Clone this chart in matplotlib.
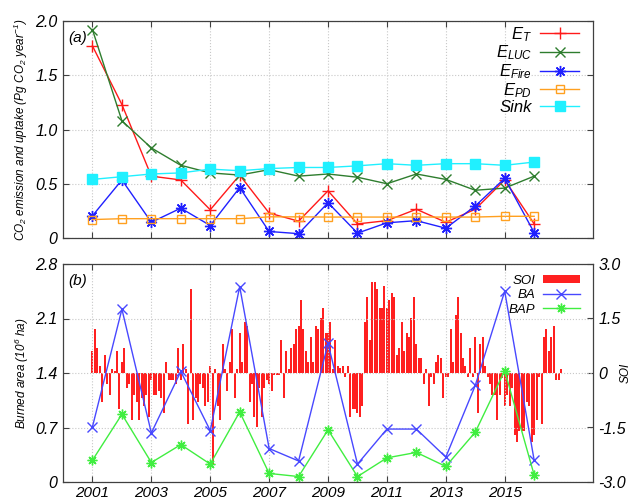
"""Recreate the two-panel CO2 emission / burned area chart with SOI bars."""
import numpy as np
import matplotlib
matplotlib.use("Agg")
import matplotlib.pyplot as plt
from matplotlib.patches import Patch
from matplotlib.lines import Line2D

plt.rcParams['font.family'] = ['Liberation Sans', 'DejaVu Sans']
plt.rcParams['font.style'] = 'italic'
plt.rcParams['mathtext.fontset'] = 'custom'
plt.rcParams['mathtext.it'] = 'Liberation Sans:italic'
plt.rcParams['mathtext.rm'] = 'Liberation Sans:italic'

years = np.arange(2001, 2017)

# panel (a), Pg CO2 per year
e_t = [1.77, 1.23, 0.57, 0.535, 0.26, 0.58, 0.23, 0.155, 0.435, 0.13, 0.16, 0.265, 0.145, 0.265, 0.535, 0.13]
e_luc = [1.92, 1.08, 0.83, 0.67, 0.60, 0.58, 0.63, 0.57, 0.59, 0.56, 0.50, 0.59, 0.54, 0.44, 0.46, 0.57]
e_fire = [0.205, 0.535, 0.145, 0.275, 0.115, 0.465, 0.06, 0.04, 0.325, 0.045, 0.14, 0.16, 0.09, 0.295, 0.55, 0.05]
e_pd = [0.17, 0.178, 0.178, 0.178, 0.178, 0.178, 0.195, 0.195, 0.193, 0.193, 0.193, 0.193, 0.193, 0.193, 0.20, 0.20]
sink = [0.54, 0.565, 0.59, 0.60, 0.635, 0.62, 0.64, 0.65, 0.65, 0.665, 0.685, 0.67, 0.685, 0.685, 0.67, 0.70]

# panel (b), burned area in 10^6 ha
ba = [0.71, 2.22, 0.63, 1.42, 0.66, 2.51, 0.43, 0.27, 1.78, 0.23, 0.68, 0.68, 0.32, 1.24, 2.45, 0.28]
bap = [0.28, 0.87, 0.25, 0.48, 0.23, 0.90, 0.11, 0.07, 0.67, 0.07, 0.31, 0.38, 0.20, 0.64, 1.43, 0.09]

# monthly SOI, Jan 2001 - Dec 2016
soi = [
    0.6, 1.2, 0.7, 0.2, -0.8, 0.5, -0.3, -0.6, 0.1, 0.05, 0.6, -1.0,      # 2001
    0.3, 0.7, -0.4, -0.3, -1.3, -0.6, -0.8, -1.3, -0.7, -0.9, -0.6, -1.2,  # 2002
    -0.2, -0.6, -0.6, -0.5, -0.7, -1.1, 0.3, -0.2, -0.2, -0.2, -0.3, 0.7,  # 2003
    -0.2, 0.8, 0.1, -1.4, 2.3, -1.3, -0.7, -0.8, -0.3, -0.4, -0.9, -0.8,   # 2004
    0.2, -2.5, 0.1, -0.9, -1.3, 0.8, 0.1, -0.5, 0.3, 1.2, -0.7, 0.1,       # 2005
    1.1, 0.3, 1.4, 1.3, -0.8, -0.3, -1.2, -1.5, -0.4, -1.2, -0.4, -0.2,    # 2006
    -0.3, -0.5, -0.05, -0.05, -0.05, 0.9, -0.7, 0.6, 0.1, 0.7, 0.8, 1.2,   # 2007
    1.3, 2.0, 1.2, 0.6, 0.3, 1.0, 0.3, 1.3, 1.2, 1.5, 1.8, 1.1,            # 2008
    1.1, 1.4, 0.1, 0.9, 0.2, 0.15, 0.2, -0.1, 0.2, -1.2, -1.0, -1.0,       # 2009
    -1.1, -1.2, -0.9, 1.4, 2.1, 0.9, 2.5, 2.5, 2.3, 1.8, 1.8, 2.4,         # 2010
    1.8, 2.0, 2.2, 2.1, 0.5, 0.7, 1.4, 0.6, 1.1, 1.0, 1.5, 2.1,            # 2011
    0.8, 0.4, 0.4, -0.3, 0.1, -0.9, -0.1, -0.3, 0.3, 0.5, 0.4, -0.7,       # 2012
    -0.1, -0.1, 1.2, 0.3, 1.6, 2.1, 1.1, 0.4, 0.2, -0.1, 0.7, -0.1,        # 2013
    1.0, -1.1, 0.8, 1.0, 0.2, -0.1, -0.3, -0.6, -0.6, -1.3, -0.6, -0.15,   # 2014
    -0.9, -0.6, -0.9, -0.4, -1.7, -1.9, -1.6, -1.6, -1.6, -0.8, -0.9, -1.9,  # 2015
    -1.7, -1.3, -0.1, -1.4, 1.0, 1.2, 0.6, 1.0, 1.3, -0.2, -0.2, 0.1,      # 2016
]
soi_time = 2001 + np.arange(len(soi)) / 12.0

xticks = list(range(2001, 2017, 2))


def style_axes(ax):
    """gnuplot-like frame: thin spines, inward ticks, dotted grid."""
    for sp in ax.spines.values():
        sp.set_color('#404040')
        sp.set_linewidth(0.9)
    ax.tick_params(direction='in', length=4, width=0.8, color='#404040',
                   labelsize=11.5, pad=4)
    ax.grid(True, color='#c8c8c8', linestyle=':', linewidth=0.8)
    ax.set_axisbelow(True)
    ax.set_xlim(2000, 2018)
    ax.set_xticks(xticks)


fig = plt.figure(figsize=(6.34, 5.0), dpi=100)
ax1 = fig.add_axes([0.0994, 0.524, 0.836, 0.434])
ax2 = fig.add_axes([0.0994, 0.036, 0.836, 0.436])

# ---- panel (a)
style_axes(ax1)
ax1.tick_params(top=True, right=True, labelbottom=False)
ax1.set_ylim(0, 2.0)
ax1.set_yticks([0, 0.5, 1.0, 1.5, 2.0])
ax1.set_yticklabels(['0', '0.5', '1.0', '1.5', '2.0'])

lw = 1.0
ax1.plot(years, e_t, color='#ff1a1a', lw=lw, marker='+', ms=8, mew=1.0, label='$E_{T}$')
ax1.plot(years, e_luc, color='#2e7d2e', lw=lw, marker='x', ms=7, mew=1.0, label='$E_{LUC}$')
ax1.plot(years, e_fire, color='#2020ff', lw=lw, marker=(8, 2, 0), ms=8, mew=1.0, label='$E_{Fire}$')
ax1.plot(years, e_pd, color='#ffa020', lw=lw, marker='s', ms=6, mfc='none', mew=1.0, label='$E_{PD}$')
ax1.plot(years, sink, color='#20f0ff', lw=lw, marker='s', ms=6.5, label='Sink')

ax1.legend(loc='upper right', bbox_to_anchor=(0.995, 1.035), frameon=False,
           markerfirst=False, fontsize=12, handlelength=2.3, handletextpad=0.5,
           labelspacing=0.0, borderpad=0.2)
ax1.set_ylabel('CO$_2$ emission and uptake (Pg CO$_2$ year$^{-1}$)', fontsize=8.5, labelpad=4)
ax1.text(0.01, 0.923, '(a)', transform=ax1.transAxes, fontsize=11, va='center')

# ---- panel (b)
style_axes(ax2)
ax2.tick_params(top=True)
ax2.set_ylim(0, 2.8)
ax2.set_yticks([0, 0.7, 1.4, 2.1, 2.8])
ax2.set_yticklabels(['0', '0.7', '1.4', '2.1', '2.8'])
ax2.set_xticklabels([str(y) for y in xticks])
ax2.tick_params(axis='x', pad=3, labelsize=11)

ax3 = ax2.twinx()
for sp in ax3.spines.values():
    sp.set_visible(False)
ax3.tick_params(direction='in', length=4, width=0.8, color='#404040', labelsize=11.5, pad=4)
ax3.set_ylim(-3.0, 3.0)
ax3.set_yticks([-3.0, -1.5, 0, 1.5, 3.0])
ax3.set_yticklabels(['-3.0', '-1.5', '0', '1.5', '3.0'])
ax3.bar(soi_time, soi, width=0.068, color='#ff2020', linewidth=0, zorder=1,
        antialiased=False)
fig.text(626 / 634, 1 - 373 / 500, 'SOI', rotation=90, ha='center', va='center',
         fontsize=8.5)

ax2.set_zorder(ax3.get_zorder() + 1)
ax2.patch.set_visible(False)
ax2.plot(years, ba, color='#4848ff', lw=lw, marker='x', ms=7, mew=1.0, label='BA')
ax2.plot(years, bap, color='#40ee40', lw=lw, marker=(8, 2, 0), ms=7, mew=1.0, label='BAP')

handles = [Patch(facecolor='#ff2020', edgecolor='none'),
           Line2D([], [], color='#4848ff', lw=lw, marker='x', ms=7, mew=1.0),
           Line2D([], [], color='#40ee40', lw=lw, marker=(8, 2, 0), ms=7, mew=1.0)]
ax2.legend(handles, ['SOI', 'BA', 'BAP'], loc='upper right', bbox_to_anchor=(0.995, 1.0),
           frameon=False, markerfirst=False, fontsize=9.5, handlelength=2.8,
           handleheight=0.65, handletextpad=0.6, labelspacing=0.2, borderpad=0.3)
ax2.set_ylabel('Burned area (10$^6$ ha)', fontsize=8.5, labelpad=3)
ax2.text(0.01, 0.92, '(b)', transform=ax2.transAxes, fontsize=11, va='center')

fig.savefig('out.png', dpi=100)
